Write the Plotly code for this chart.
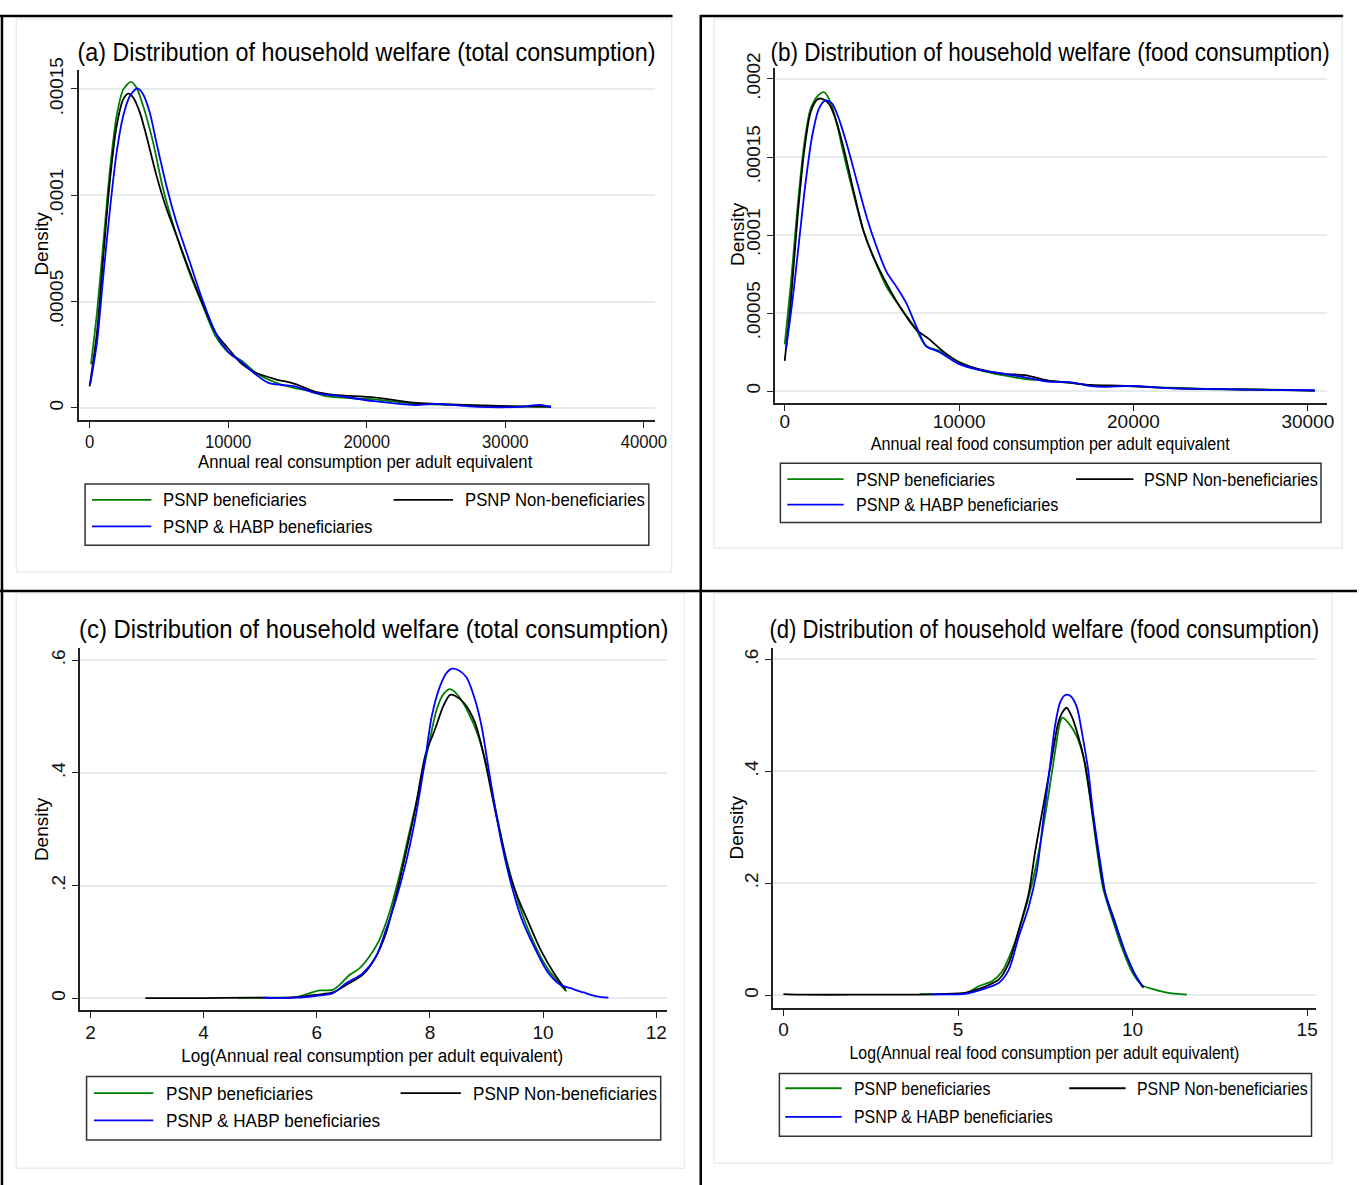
import json
import plotly.graph_objects as go

W, H = 1372, 1185

# ---------------- data ----------------
series_names = ["PSNP beneficiaries", "PSNP Non-beneficiaries", "PSNP & HABP beneficiaries"]
series_colors = ["#008000", "#000000", "#0000ff"]

panel_titles = [
    "(a) Distribution of household welfare (total consumption)",
    "(b) Distribution of household welfare (food consumption)",
    "(c) Distribution of household welfare (total consumption)",
    "(d) Distribution of household welfare (food consumption)",
]
x_titles = [
    "Annual real consumption per adult equivalent",
    "Annual real food consumption per adult equivalent",
    "Log(Annual real consumption per adult equivalent)",
    "Log(Annual real food consumption per adult equivalent)",
]
y_title = "Density"

# tick labels
a_xticks = [0, 10000, 20000, 30000, 40000]
a_yticks = [0, 0.00005, 0.0001, 0.00015]
a_yticktext = ["0", ".00005", ".0001", ".00015"]
b_xticks = [0, 10000, 20000, 30000]
b_yticks = [0, 0.00005, 0.0001, 0.00015, 0.0002]
b_yticktext = ["0", ".00005", ".0001", ".00015", ".0002"]
c_xticks = [2, 4, 6, 8, 10, 12]
c_yticks = [0, 0.2, 0.4, 0.6]
c_yticktext = ["0", ".2", ".4", ".6"]
d_xticks = [0, 5, 10, 15]
d_yticks = [0, 0.2, 0.4, 0.6]
d_yticktext = ["0", ".2", ".4", ".6"]

# Panel (a): total consumption
a_green_x = [100, 528, 1004, 1480, 1956, 2432, 2979, 3384, 3860, 4574, 5288, 6240, 7192, 8144, 9096,
             10048, 11000, 11952, 13380, 14807, 15759, 17187, 20519, 23375, 26000, 29000, 31500, 33300]
a_green_y = [2.06e-5, 4.46e-5, 7.86e-5, 11.27e-5, 13.75e-5, 14.98e-5, 15.33e-5, 15.06e-5, 14.21e-5,
             12.51e-5, 10.34e-5, 8.17e-5, 6.39e-5, 4.85e-5, 3.37e-5, 2.60e-5, 2.21e-5, 1.67e-5, 1.21e-5,
             0.93e-5, 0.82e-5, 0.54e-5, 0.40e-5, 0.20e-5, 0.15e-5, 0.10e-5, 0.06e-5, 0.08e-5]
a_black_x = [0, 528, 1004, 1480, 1956, 2432, 2789, 3146, 3622, 4098, 4812, 5526, 6240, 7192, 8144, 9096,
             10048, 11000, 11952, 13380, 14807, 16235, 17663, 20519, 23375, 25000, 28000, 30000, 33300]
a_black_y = [1.02e-5, 3.53e-5, 7.24e-5, 10.8e-5, 13.28e-5, 14.52e-5, 14.78e-5, 14.6e-5, 13.9e-5, 12.8e-5,
             10.96e-5, 9.41e-5, 8.17e-5, 6.47e-5, 4.92e-5, 3.53e-5, 2.76e-5, 2.06e-5, 1.67e-5, 1.36e-5,
             1.13e-5, 0.77e-5, 0.62e-5, 0.50e-5, 0.25e-5, 0.19e-5, 0.12e-5, 0.09e-5, 0.05e-5]
a_blue_x = [50, 528, 1004, 1480, 1956, 2432, 2908, 3455, 3860, 4336, 4812, 5526, 6240, 7192, 8144, 9096,
            10048, 11000, 11952, 12904, 13856, 14807, 16235, 18139, 20500, 23500, 25000, 28000, 31000,
            32500, 33300]
a_blue_y = [1.13e-5, 3.07e-5, 6.32e-5, 9.41e-5, 12.04e-5, 13.75e-5, 14.67e-5, 15.03e-5, 14.75e-5, 13.9e-5,
            12.51e-5, 10.5e-5, 8.79e-5, 6.93e-5, 5.08e-5, 3.53e-5, 2.6e-5, 2.14e-5, 1.59e-5, 1.18e-5,
            1.08e-5, 1.02e-5, 0.71e-5, 0.54e-5, 0.32e-5, 0.14e-5, 0.19e-5, 0.05e-5, 0.05e-5, 0.14e-5,
            0.04e-5]

# Panel (b): food consumption
b_green_x = [0, 355, 734, 1112, 1490, 1963, 2247, 2625, 3003, 3475, 3948, 4515, 5082, 5838, 6595, 7540,
             8107, 8863, 9997, 11133, 12645, 13780, 15100, 16427, 17561, 19500, 22000, 25000, 28000, 30400]
b_green_y = [3.0e-5, 6.9e-5, 11.76e-5, 15.78e-5, 18.1e-5, 18.99e-5, 19.15e-5, 18.52e-5, 17.04e-5,
             14.72e-5, 12.61e-5, 10.28e-5, 8.6e-5, 6.69e-5, 5.43e-5, 3.95e-5, 2.89e-5, 2.58e-5, 1.88e-5,
             1.37e-5, 0.99e-5, 0.78e-5, 0.68e-5, 0.53e-5, 0.36e-5, 0.34e-5, 0.22e-5, 0.12e-5, 0.10e-5,
             0.05e-5]
b_black_x = [0, 355, 734, 1112, 1490, 1868, 2152, 2530, 2908, 3380, 3948, 4515, 5082, 5838, 6595, 7540,
             8296, 9052, 9997, 11133, 12645, 13780, 15100, 16427, 17561, 19500, 22000, 25000, 28000, 30400]
b_black_y = [1.94e-5, 5.85e-5, 11.13e-5, 15.35e-5, 17.89e-5, 18.69e-5, 18.73e-5, 18.42e-5, 17.47e-5,
             15.57e-5, 12.82e-5, 10.28e-5, 8.6e-5, 6.9e-5, 5.43e-5, 3.95e-5, 3.32e-5, 2.58e-5, 1.84e-5,
             1.42e-5, 1.1e-5, 1.03e-5, 0.68e-5, 0.53e-5, 0.40e-5, 0.34e-5, 0.19e-5, 0.13e-5, 0.08e-5,
             0.02e-5]
b_blue_x = [72, 450, 828, 1206, 1584, 1963, 2341, 2719, 3097, 3570, 4137, 4704, 5272, 5838, 6406, 6973,
            7540, 8107, 8863, 9997, 11133, 12645, 13780, 15100, 16427, 17561, 18300, 20000, 22000, 25000,
            28000, 30400]
b_blue_y = [2.68e-5, 5.85e-5, 9.65e-5, 13.45e-5, 16.41e-5, 18.1e-5, 18.63e-5, 18.42e-5, 17.47e-5,
            15.78e-5, 13.45e-5, 11.13e-5, 9.23e-5, 7.64e-5, 6.69e-5, 5.64e-5, 4.16e-5, 2.89e-5, 2.51e-5,
            1.73e-5, 1.37e-5, 1.1e-5, 0.89e-5, 0.61e-5, 0.57e-5, 0.32e-5, 0.27e-5, 0.34e-5, 0.19e-5,
            0.13e-5, 0.08e-5, 0.06e-5]

# Panel (c): log total consumption
c_green_x = [4.6, 5.2, 5.645, 5.878, 6.053, 6.286, 6.403, 6.578, 6.753, 6.927, 7.102, 7.277, 7.452, 7.627,
             7.802, 7.977, 8.122, 8.239, 8.356, 8.501, 8.676, 8.851, 8.997, 9.143, 9.289, 9.435, 9.61,
             9.843, 10.076, 10.309, 10.414]
c_green_y = [0.001, 0.0012, 0.0023, 0.0094, 0.0141, 0.0152, 0.024, 0.0416, 0.0533, 0.0738, 0.1031, 0.15,
             0.2145, 0.2906, 0.3668, 0.4489, 0.5133, 0.5397, 0.5485, 0.5368, 0.5075, 0.4665, 0.4137,
             0.3434, 0.2731, 0.2145, 0.1559, 0.0973, 0.0533, 0.024, 0.0123]
c_black_x = [2.97, 4.0, 4.8, 5.3, 5.645, 5.995, 6.286, 6.519, 6.81, 7.044, 7.219, 7.393, 7.568, 7.743,
             7.918, 8.093, 8.239, 8.356, 8.443, 8.618, 8.793, 8.91, 9.026, 9.143, 9.259, 9.376, 9.551,
             9.726, 9.959, 10.193, 10.397]
c_black_y = [0.0005, 0.0005, 0.0015, 0.001, 0.0023, 0.0064, 0.0105, 0.024, 0.0416, 0.0738, 0.1149,
             0.1793, 0.2555, 0.3375, 0.4313, 0.4782, 0.5192, 0.5385, 0.5368, 0.5221, 0.4899, 0.4489,
             0.3961, 0.3375, 0.2848, 0.2321, 0.1793, 0.1383, 0.0856, 0.0445, 0.0152]
c_blue_x = [5.06, 5.645, 5.995, 6.286, 6.519, 6.81, 7.044, 7.219, 7.393, 7.568, 7.743, 7.918, 8.034, 8.18,
            8.297, 8.385, 8.501, 8.647, 8.793, 8.91, 9.026, 9.143, 9.259, 9.435, 9.61, 9.843, 10.076,
            10.309, 10.484, 10.717, 10.95, 11.154]
c_blue_y = [0.0015, 0.0012, 0.0047, 0.0094, 0.027, 0.0445, 0.0738, 0.1207, 0.1734, 0.2379, 0.32, 0.4254,
            0.5016, 0.5543, 0.5778, 0.5848, 0.5825, 0.569, 0.5309, 0.484, 0.4137, 0.3434, 0.2789, 0.2028,
            0.1442, 0.0914, 0.0475, 0.024, 0.0182, 0.0105, 0.0035, 0.0012]

# Panel (d): log food consumption
d_green_x = [3.9, 4.5, 5.228, 5.605, 5.983, 6.267, 6.55, 6.834, 7.117, 7.353, 7.59, 7.778, 7.92, 7.986,
             8.156, 8.393, 8.582, 8.77, 8.96, 9.149, 9.432, 9.715, 9.998, 10.281, 10.612, 10.99, 11.556]
d_green_y = [0.002, 0.002, 0.0035, 0.0165, 0.0253, 0.0429, 0.0812, 0.1341, 0.1988, 0.2694, 0.3576, 0.4341,
             0.4871, 0.4959, 0.4871, 0.4635, 0.4282, 0.3576, 0.2694, 0.1929, 0.1341, 0.0812, 0.04,
             0.0176, 0.0106, 0.0047, 0.0012]
d_black_x = [0.0, 0.5, 2.0, 3.5, 4.5, 5.228, 5.7, 6.173, 6.456, 6.74, 7.023, 7.212, 7.448, 7.684, 7.873,
             8.015, 8.11, 8.251, 8.44, 8.629, 8.818, 9.007, 9.196, 9.479, 9.763, 10.046, 10.31]
d_black_y = [0.002, 0.001, 0.001, 0.001, 0.002, 0.0047, 0.0135, 0.0282, 0.0576, 0.1165, 0.1812, 0.2576,
             0.34, 0.4224, 0.4871, 0.5076, 0.5135, 0.4988, 0.4635, 0.4165, 0.34, 0.2576, 0.1871, 0.1341,
             0.0812, 0.04, 0.0135]
d_blue_x = [4.25, 5.228, 5.7, 6.173, 6.456, 6.74, 7.023, 7.259, 7.448, 7.637, 7.778, 7.92, 8.062, 8.203,
            8.393, 8.582, 8.723, 8.865, 9.054, 9.243, 9.526, 9.809, 10.092, 10.281]
d_blue_y = [0.0015, 0.003, 0.0106, 0.0224, 0.0459, 0.1047, 0.1576, 0.2224, 0.3165, 0.4106, 0.4812, 0.5224,
            0.5359, 0.5353, 0.5165, 0.4576, 0.4047, 0.3282, 0.2459, 0.1753, 0.1224, 0.0724, 0.0341,
            0.0153]

# ---------------- layout helpers ----------------
FONT = "Liberation Sans, Arial, sans-serif"
GRID = "#e4ecef"
AX = "#222222"


def px(x):
    return x / W


def py(y):
    return 1 - y / H


panels = [
    dict(box=(79.5, 55.5, 662, 410), xcal=(90.6, 0, 140.1, 10000), ycal=(398, 0, 107.7, 0.00005),
         xt=a_xticks, yt=a_yticks, ytt=a_yticktext, squeeze=0.88, standoff=-2,
         data=[(a_green_x, a_green_y), (a_black_x, a_black_y), (a_blue_x, a_blue_y)]),
    dict(box=(783.6, 53.6, 1341.6, 393), xcal=(793.4, 0, 176.3, 10000), ycal=(381, 0, 79.06, 0.00005),
         xt=b_xticks, yt=b_yticks, ytt=b_yticktext, squeeze=0.85, standoff=-6,
         data=[(b_green_x, b_green_y), (b_black_x, b_black_y), (b_blue_x, b_blue_y)]),
    dict(box=(80.8, 641, 674, 1008), xcal=(91.5, 2, 114.4, 2), ycal=(996, 0, 114.2, 0.2),
         xt=c_xticks, yt=c_yticks, ytt=c_yticktext, squeeze=0.90, standoff=-2,
         data=[(c_green_x, c_green_y), (c_black_x, c_black_y), (c_blue_x, c_blue_y)]),
    dict(box=(781.4, 641, 1330.9, 1005.5), xcal=(792.1, 0, 176.5, 5), ycal=(992.8, 0, 113.4, 0.2),
         xt=d_xticks, yt=d_yticks, ytt=d_yticktext, squeeze=0.835, standoff=-2,
         data=[(d_green_x, d_green_y), (d_black_x, d_black_y), (d_blue_x, d_blue_y)]),
]

title_pos = [(371, 37), (1062, 37), (378, 622), (1056, 622)]
density_pos = [(42, 232), (745, 222), (42, 825), (745, 823)]
xtitle_pos = [(370, 452), (1062, 434), (377, 1054), (1056, 1051)]
legends = [
    dict(box=(86, 475, 656, 537), rows=(491, 518), c1=(93, 153, 163), c2=(398, 458, 468)),
    dict(box=(789, 454, 1335.6, 514), rows=(470, 496), c1=(796, 853, 863), c2=(1088, 1146, 1155)),
    dict(box=(87.5, 1075, 668, 1139.4), rows=(1092, 1119.5), c1=(95, 155, 166), c2=(405, 466, 476)),
    dict(box=(788, 1072, 1326, 1135.6), rows=(1087, 1116), c1=(794, 851, 861), c2=(1081, 1138, 1148)),
]
region_boxes = [(16.5, 4, 679, 564), (722, 4, 1357, 540), (16.5, 586, 692, 1168), (722, 586, 1347, 1163)]

fig = go.Figure()
layout = dict(width=W, height=H, margin=dict(l=0, r=0, t=0, b=0), paper_bgcolor="white",
              plot_bgcolor="white", showlegend=False)
shapes = []
annotations = []
squeeze_ann = []
squeeze_ticks = []


def add_ann(anchor, factor, **kw):
    if factor is not None:
        squeeze_ann.append([len(annotations), anchor, factor])
    annotations.append(kw)


for i, p in enumerate(panels):
    n = "" if i == 0 else str(i + 1)
    s = p["squeeze"]
    x0, y0, x1, y1 = p["box"]
    xr_p, xr_v, xr_pp, xr_st = p["xcal"]
    yr_p, yr_v, yr_pp, yr_st = p["ycal"]
    xrange = [xr_v + (x0 - xr_p) / xr_pp * xr_st, xr_v + (x1 - xr_p) / xr_pp * xr_st]
    yrange = [yr_v + (yr_p - y1) / yr_pp * yr_st, yr_v + (yr_p - y0) / yr_pp * yr_st]
    layout["xaxis" + n] = dict(
        domain=[px(x0), px(x1)], range=xrange, anchor="y" + n, showgrid=False, zeroline=False,
        showline=True, linecolor=AX, linewidth=1.5, ticks="outside", ticklen=6, tickwidth=1.2,
        tickcolor=AX, tickvals=p["xt"], ticktext=[str(v) for v in p["xt"]],
        ticklabelstandoff=p["standoff"],
        tickfont=dict(family=FONT, size=19, color="#111"), fixedrange=True)
    layout["yaxis" + n] = dict(
        domain=[py(y1), py(y0)], range=yrange, anchor="x" + n, showgrid=True, gridcolor=GRID,
        gridwidth=1.5, zeroline=False, showline=True, linecolor=AX, linewidth=1.5, ticks="outside",
        ticklen=6, tickwidth=1.2, tickcolor=AX, tickvals=p["yt"], ticktext=p["ytt"], tickangle=-90,
        tickfont=dict(family=FONT, size=19, color="#111"), fixedrange=True)
    squeeze_ticks.append(["x%sy%s" % (n, n), s])
    for (xs, ys), name, col in zip(p["data"], series_names, series_colors):
        fig.add_trace(go.Scatter(x=xs, y=ys, mode="lines", name=name, xaxis="x" + n, yaxis="y" + n,
                                 line=dict(color=col, width=1.8, shape="spline", smoothing=0.8)))

    tx, ty = title_pos[i]
    add_ann("middle", s, text=panel_titles[i], x=px(tx), y=py(ty), xref="paper", yref="paper",
            xanchor="center", yanchor="middle", showarrow=False,
            font=dict(family=FONT, size=26.5, color="#000"))
    dx, dy = density_pos[i]
    add_ann("middle", None, text=y_title, x=px(dx), y=py(dy), xref="paper", yref="paper",
            xanchor="center", yanchor="middle", showarrow=False, textangle=-90,
            font=dict(family=FONT, size=19, color="#000"))
    xx, xy = xtitle_pos[i]
    add_ann("middle", s, text=x_titles[i], x=px(xx), y=py(xy), xref="paper", yref="paper",
            xanchor="center", yanchor="middle", showarrow=False,
            font=dict(family=FONT, size=19, color="#000"))

    lg = legends[i]
    bx0, by0, bx1, by1 = lg["box"]
    shapes.append(dict(type="rect", xref="paper", yref="paper", x0=px(bx0), x1=px(bx1), y0=py(by1),
                       y1=py(by0), line=dict(color="#333", width=1.5), fillcolor="rgba(0,0,0,0)"))
    entries = [(lg["c1"], lg["rows"][0], 0), (lg["c2"], lg["rows"][0], 1), (lg["c1"], lg["rows"][1], 2)]
    for (lx0, lx1, ltx), ry, k in entries:
        shapes.append(dict(type="line", xref="paper", yref="paper", x0=px(lx0), x1=px(lx1), y0=py(ry),
                           y1=py(ry), line=dict(color=series_colors[k], width=1.8)))
        add_ann("start", s, text=series_names[k], x=px(ltx), y=py(ry), xref="paper", yref="paper",
                xanchor="left", yanchor="middle", showarrow=False,
                font=dict(family=FONT, size=19, color="#000"))

    rx0, ry0, rx1, ry1 = region_boxes[i]
    shapes.append(dict(type="rect", xref="paper", yref="paper", x0=px(rx0), x1=px(rx1), y0=py(ry1),
                       y1=py(ry0), line=dict(color="#e8eff1", width=1.5), fillcolor="rgba(0,0,0,0)",
                       layer="below"))

for (sx0, sy0, sx1, sy1) in [(2, 0, 2, H), (0, 1, 680, 1), (708, 1, 1358, 1), (708.5, 0, 708.5, H),
                             (0, 583.5, W, 583.5)]:
    shapes.append(dict(type="line", xref="paper", yref="paper", x0=px(sx0), x1=px(sx1), y0=py(sy0),
                       y1=py(sy1), line=dict(color="#000", width=2.5)))

layout["shapes"] = shapes
layout["annotations"] = annotations
fig.update_layout(**layout)

spec = json.dumps(dict(ann=squeeze_ann, ticks=squeeze_ticks))
post = """
var gd = document.querySelector('.js-plotly-plot');
[document.documentElement, document.body].forEach(function(e) {
  e.style.margin = '0'; e.style.padding = '0'; e.style.overflow = 'hidden';
  e.style.width = '1372px'; e.style.height = '1185px';
});
gd.style.position = 'fixed'; gd.style.left = '0px'; gd.style.top = '0px';
window.scrollTo(0, 0);
var NS = 'http://www.w3.org/2000/svg';
var spec = SPEC;
function squeeze(el, anchor, s) {
  var r = el.getBoundingClientRect();
  var p = el.parentNode;
  var m = p.getScreenCTM();
  var cx = anchor === 'start' ? r.left : (anchor === 'end' ? r.right : r.left + r.width / 2);
  cx = (cx - m.e) / m.a;
  var g = document.createElementNS(NS, 'g');
  g.setAttribute('transform', 'translate(' + cx + ',0) scale(' + s + ',1) translate(' + (-cx) + ',0)');
  p.insertBefore(g, el);
  g.appendChild(el);
}
try {
  spec.ann.forEach(function(a) {
    var t = gd.querySelector('g.annotation[data-index="' + a[0] + '"] text');
    if (t) squeeze(t, a[1], a[2]);
  });
  spec.ticks.forEach(function(a) {
    gd.querySelectorAll('.subplot.' + a[0] + ' .xtick text').forEach(function(t) {
      squeeze(t, 'middle', a[1]);
    });
  });
} catch (e) { console.log(e); }
""".replace("SPEC", spec)

fig.write_html("out.html", post_script=post)
